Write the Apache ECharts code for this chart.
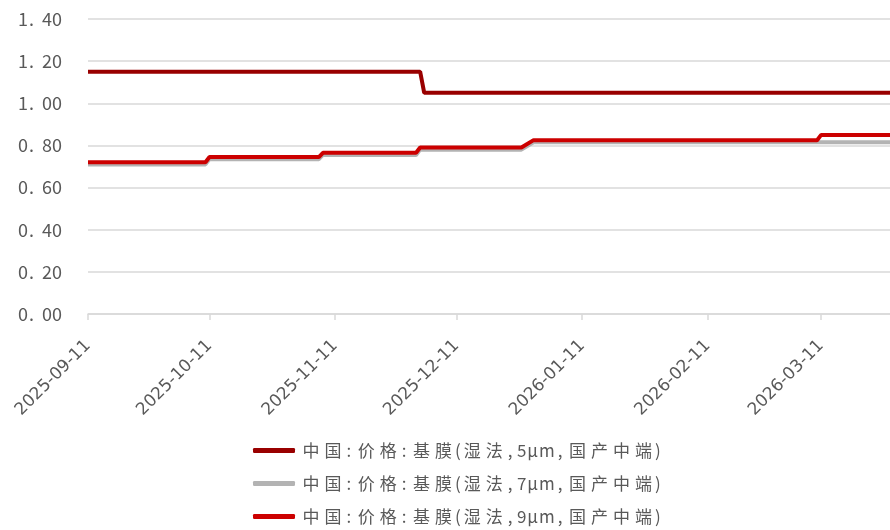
<!DOCTYPE html>
<html>
<head>
<meta charset="utf-8">
<script src="https://cdn.jsdelivr.net/npm/echarts@6/dist/echarts.min.js"></script>
<style>
  html, body { margin: 0; padding: 0; background: #fff; }
  #chart { width: 890px; height: 530px; }
</style>
</head>
<body>
<div id="chart"></div>
<script>
// 数据
const seriesNames = [
  '中国:价格:基膜(湿法,5μm,国产中端)',
  '中国:价格:基膜(湿法,7μm,国产中端)',
  '中国:价格:基膜(湿法,9μm,国产中端)'
];
const xTicks = ['2025-09-11', '2025-10-11', '2025-11-11', '2025-12-11', '2026-01-11', '2026-02-11', '2026-03-11'];
const xMin = '2025-09-11';
const xMax = '2026-03-28';

const film5 = [
  ['2025-09-11', 1.15], ['2025-12-02', 1.15], ['2025-12-03', 1.05], ['2026-03-28', 1.05]
];
const film7 = [
  ['2025-09-11', 0.71], ['2025-10-10', 0.71], ['2025-10-11', 0.735],
  ['2025-11-07', 0.735], ['2025-11-08', 0.755], ['2025-12-01', 0.755],
  ['2025-12-02', 0.78], ['2025-12-27', 0.78], ['2025-12-30', 0.815],
  ['2026-03-28', 0.815]
];
const film9 = [
  ['2025-09-11', 0.72], ['2025-10-10', 0.72], ['2025-10-11', 0.745],
  ['2025-11-07', 0.745], ['2025-11-08', 0.765], ['2025-12-01', 0.765],
  ['2025-12-02', 0.79], ['2025-12-27', 0.79], ['2025-12-30', 0.825],
  ['2026-03-10', 0.825], ['2026-03-11', 0.85], ['2026-03-28', 0.85]
];
const colors = ['#990000', '#B3B3B3', '#CC0000'];

const ts = s => Date.UTC(+s.slice(0, 4), +s.slice(5, 7) - 1, +s.slice(8, 10));
const toPts = arr => arr.map(d => [ts(d[0]), d[1]]);
const pad = n => (n < 10 ? '0' : '') + n;
const fmtDate = v => {
  const d = new Date(v);
  return d.getUTCFullYear() + '-' + pad(d.getUTCMonth() + 1) + '-' + pad(d.getUTCDate());
};

// 原图字体字距较宽，用富文本逐字加间距
const spaced = s => Array.from(s).map(ch => {
  if (/[\u4e00-\u9fff]/.test(ch)) return '{c|' + ch + '}';
  if (ch === ':' || ch === ',') return '{p|' + ch + '}';
  return '{a|' + ch + '}';
}).join('');

const legendRich = {
  c: { fontSize: 17, color: '#595959', padding: [0, 2.5, 0, 2.5], lineHeight: 20 },
  p: { fontSize: 17, color: '#595959', padding: [0, 4, 0, 2.5], lineHeight: 20 },
  a: { fontSize: 17, color: '#595959', padding: [0, 0.5, 0, 0.5], lineHeight: 20 }
};

const chart = echarts.init(document.getElementById('chart'));
chart.setOption({
  animation: false,
  color: colors,
  textStyle: { fontFamily: '"Noto Sans CJK SC", "Noto Sans", sans-serif' },
  grid: { left: 88, right: 0, top: 19, bottom: 216, containLabel: false },
  legend: {
    orient: 'vertical',
    left: 248,
    top: 437,
    itemGap: 16,
    itemWidth: 42,
    itemHeight: 5,
    icon: 'roundRect',
    textStyle: { fontSize: 17, color: '#595959', rich: legendRich },
    formatter: name => spaced(name),
    data: seriesNames
  },
  xAxis: {
    type: 'value',
    min: ts(xMin),
    max: ts(xMax),
    axisLine: { lineStyle: { color: '#D9D9D9', width: 1.5 } },
    axisTick: {
      show: true, length: 6, lineStyle: { color: '#D9D9D9', width: 1.5 },
      customValues: xTicks.map(ts)
    },
    splitLine: { show: false },
    axisLabel: {
      customValues: xTicks.map(ts),
      rotate: 45,
      margin: 29,
      fontSize: 17,
      fontFamily: '"DejaVu Sans", sans-serif',
      color: '#595959',
      formatter: fmtDate
    }
  },
  yAxis: {
    type: 'value',
    min: 0,
    max: 1.4,
    interval: 0.2,
    axisLine: { show: false },
    axisTick: { show: false },
    splitLine: { lineStyle: { color: '#D9D9D9', width: 1.5 } },
    axisLabel: {
      margin: 26,
      fontSize: 18,
      color: '#595959',
      formatter: v => {
        const s = v.toFixed(2);
        return '{n|' + s.split('.')[0] + '}{d|.}{n|' + s.split('.')[1] + '}';
      },
      rich: {
        n: { fontSize: 18, color: '#595959' },
        d: { fontSize: 18, color: '#595959', padding: [0, 8, 0, 1] }
      }
    }
  },
  series: [
    { name: seriesNames[0], type: 'line', data: toPts(film5), showSymbol: false, lineStyle: { width: 4, color: colors[0] } },
    { name: seriesNames[1], type: 'line', data: toPts(film7), showSymbol: false, lineStyle: { width: 4, color: colors[1] } },
    { name: seriesNames[2], type: 'line', data: toPts(film9), showSymbol: false, lineStyle: { width: 4, color: colors[2] } }
  ]
});
</script>
</body>
</html>
